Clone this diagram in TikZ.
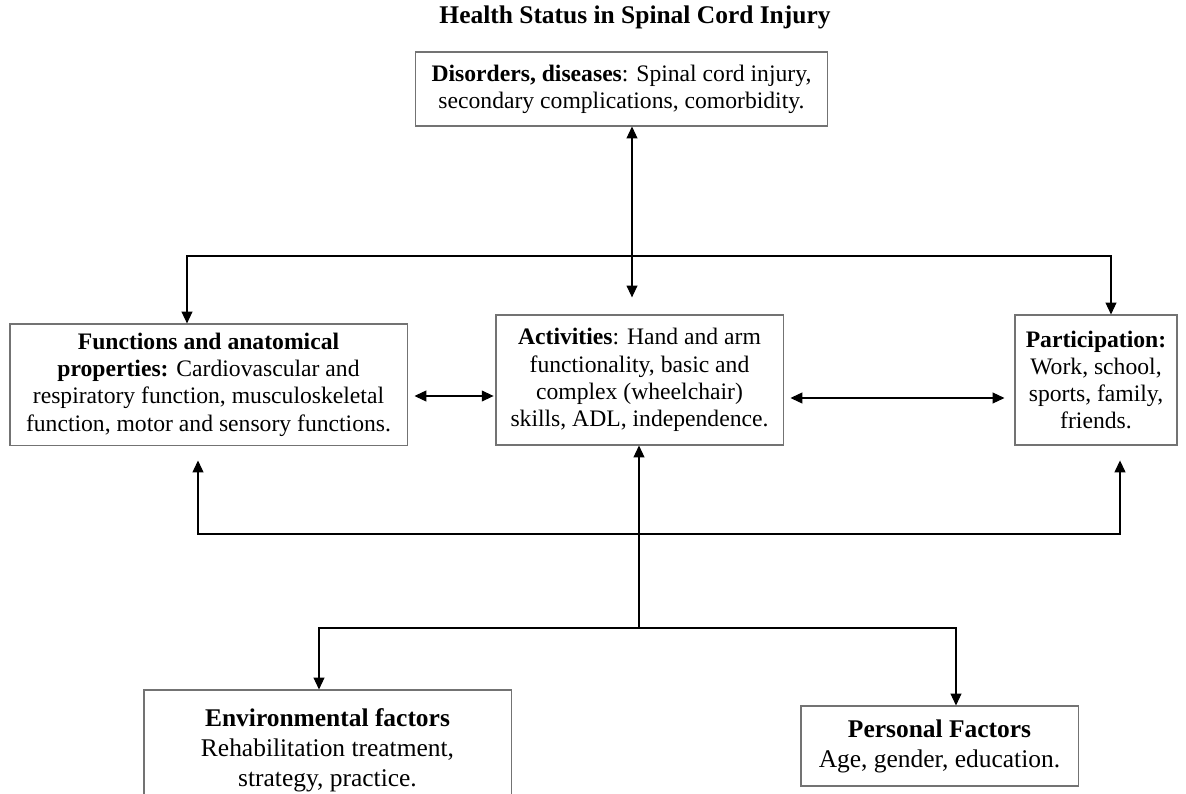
\documentclass[tikz,border=0pt]{standalone}
\usepackage{fontspec}
\setmainfont{Liberation Serif}
\usetikzlibrary{arrows.meta}
\tikzset{
  box/.style = {draw = black!55, line width = 0.6pt, align = center, inner sep = 3pt,
                font = \fontsize{13}{15}\selectfont},
  bigbox/.style = {box, font = \fontsize{14}{16.5}\selectfont},
  link/.style = {line width = 0.6pt, -{Triangle[length = 6.5pt, width = 6pt]}},
  twoway/.style = {line width = 0.6pt, {Triangle[length = 6.5pt, width = 6pt]}-{Triangle[length = 6.5pt, width = 6pt]}}
}
\begin{document}
\begin{tikzpicture}[x = 0.55pt, y = -0.55pt]
	\useasboundingbox (0, 0) rectangle (1186, 794);
	\clip (0, 0) rectangle (1186, 794);
	% Nodes
	\node[font = \fontsize{14}{16}\selectfont\bfseries] (title) at (635, 17) {Health Status in Spinal Cord Injury};
	\node[box, minimum width = 227pt, minimum height = 40.7pt] (dis) at (621.5, 89)
		{\textbf{Disorders, diseases}: Spinal cord injury,\\ secondary complications, comorbidity.};
	\node[box, minimum width = 218.4pt, minimum height = 66.6pt] (func) at (208.5, 384.5)
		{\textbf{Functions and anatomical}\\ \textbf{properties:} Cardiovascular and\\ respiratory function, musculoskeletal\\ function, motor and sensory functions.};
	\node[box, minimum width = 157.9pt, minimum height = 71.5pt] (act) at (639.5, 380)
		{\textbf{Activities}: Hand and arm\\ functionality, basic and\\ complex (wheelchair)\\ skills, ADL, independence.};
	\node[box, minimum width = 89.1pt, minimum height = 71.5pt] (par) at (1096, 380)
		{\textbf{Participation:}\\ Work, school,\\ sports, family,\\ friends.};
	\node[bigbox, minimum width = 201.9pt, minimum height = 66pt] (env) at (327.5, 750)
		{\textbf{Environmental factors}\\ Rehabilitation treatment,\\ strategy, practice.};
	\node[bigbox, minimum width = 152.4pt, minimum height = 44pt] (pers) at (939.5, 746)
		{\textbf{Personal Factors}\\ Age, gender, education.};

	% Junctions
	\coordinate (axis) at (632, 256);
	\coordinate (topL) at (187, 256);
	\coordinate (topR) at (1111, 256);
	\coordinate (rowL) at (0, 396);
	\coordinate (rowR) at (0, 398);
	\coordinate (midL) at (198, 534);
	\coordinate (midR) at (1120, 534);
	\coordinate (hub) at (639, 628);
	\coordinate (lowL) at (319, 628);
	\coordinate (lowR) at (956, 628);

	% Edges
	\draw[twoway, shorten > = 9.4pt] (dis.south -| axis) -- (act.north -| axis);
	\draw[twoway] (func.north -| topL) -- (topL) -- (topR) -- (par.north -| topR);
	\draw[twoway, shorten < = 3.8pt, shorten > = 1pt] (func.east |- rowL) -- (act.west |- rowL);
	\draw[twoway, shorten < = 3.8pt, shorten > = 5.5pt] (act.east |- rowR) -- (par.west |- rowR);
	\draw[twoway, shorten < = 8.2pt, shorten > = 8.2pt] (func.south -| midL) -- (midL) -- (midR) -- (par.south -| midR);
	\draw[link] (hub) -- (act.south -| hub);
	\draw[twoway] (env.north -| lowL) -- (lowL) -- (lowR) -- (pers.north -| lowR);
\end{tikzpicture}
\end{document}
